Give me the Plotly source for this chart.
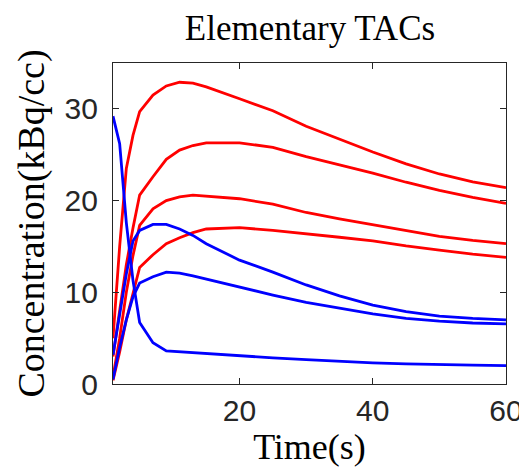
import plotly.graph_objects as go

time_s = [1, 2, 3, 4, 5, 7, 9, 11, 13, 15, 20, 25, 30, 35, 40, 45, 50, 55, 60]

red_1 = [5.0, 15.0, 23.5, 27.1, 29.7, 31.5, 32.5, 32.9, 32.8, 32.4, 31.1, 29.8, 28.1, 26.7, 25.3, 24.0, 22.9, 22.05, 21.4]
red_2 = [3.0, 8.0, 13.0, 17.0, 20.6, 22.6, 24.5, 25.5, 26.0, 26.3, 26.3, 25.8, 24.8, 23.9, 23.0, 22.0, 21.1, 20.35, 19.7]
red_3 = [0.8, 5.0, 10.0, 14.0, 17.3, 19.1, 20.0, 20.4, 20.6, 20.5, 20.2, 19.6, 18.7, 18.0, 17.35, 16.7, 16.1, 15.65, 15.3]
red_4 = [0.4, 3.5, 7.0, 10.0, 12.7, 14.1, 15.3, 15.95, 16.5, 16.9, 17.05, 16.75, 16.4, 16.0, 15.6, 15.05, 14.6, 14.15, 13.8]

blue_1 = [29.2, 26.2, 17.6, 11.3, 6.7, 4.5, 3.6, 3.5, 3.45, 3.35, 3.1, 2.85, 2.65, 2.45, 2.3, 2.2, 2.1, 2.05, 2.0]
blue_2 = [3.2, 7.5, 12.0, 15.6, 16.75, 17.4, 17.4, 16.9, 16.2, 15.3, 13.5, 12.2, 10.8, 9.6, 8.6, 7.9, 7.4, 7.15, 7.0]
blue_3 = [0.5, 4.0, 7.0, 9.5, 11.0, 11.7, 12.2, 12.1, 11.8, 11.45, 10.5, 9.7, 8.9, 8.25, 7.65, 7.15, 6.85, 6.65, 6.55]

x_ticks = [20, 40, 60]
y_ticks = [0, 10, 20, 30]

fig = go.Figure()
for ys in [red_1, red_2, red_3, red_4]:
    fig.add_trace(go.Scatter(x=time_s, y=ys, mode="lines",
                             line=dict(color="#ff0000", width=2.8), showlegend=False))
for ys in [blue_1, blue_2, blue_3]:
    fig.add_trace(go.Scatter(x=time_s, y=ys, mode="lines",
                             line=dict(color="#0000ff", width=2.8), showlegend=False))

axis_common = dict(showline=True, linecolor="#262626", linewidth=1.2, mirror="ticks",
                   ticks="inside", ticklen=6, tickcolor="#262626", showgrid=False,
                   zeroline=False, tickfont=dict(family="Liberation Sans, Arial", size=30, color="#262626"))

fig.update_layout(
    width=527, height=470,
    margin=dict(l=105, r=20, t=55, b=94),
    paper_bgcolor="white", plot_bgcolor="white",
    title=dict(text="Elementary TACs", x=0.573, xanchor="center", y=0.985, yanchor="top",
               font=dict(family="Liberation Serif, Times New Roman", size=35, color="black")),
    xaxis=dict(range=[1, 60], tickvals=x_ticks, ticklabelstandoff=0,
               title=dict(text="Time(s)", standoff=0,
                          font=dict(family="Liberation Serif, Times New Roman", size=36, color="black")),
               **axis_common),
    yaxis=dict(range=[0, 35], tickvals=y_ticks, ticklabelstandoff=8,
               title=dict(text="Concentration(kBq/cc)", standoff=8,
                          font=dict(family="Liberation Serif, Times New Roman", size=38, color="black")),
               **axis_common),
)

fig.write_html("out.html")
